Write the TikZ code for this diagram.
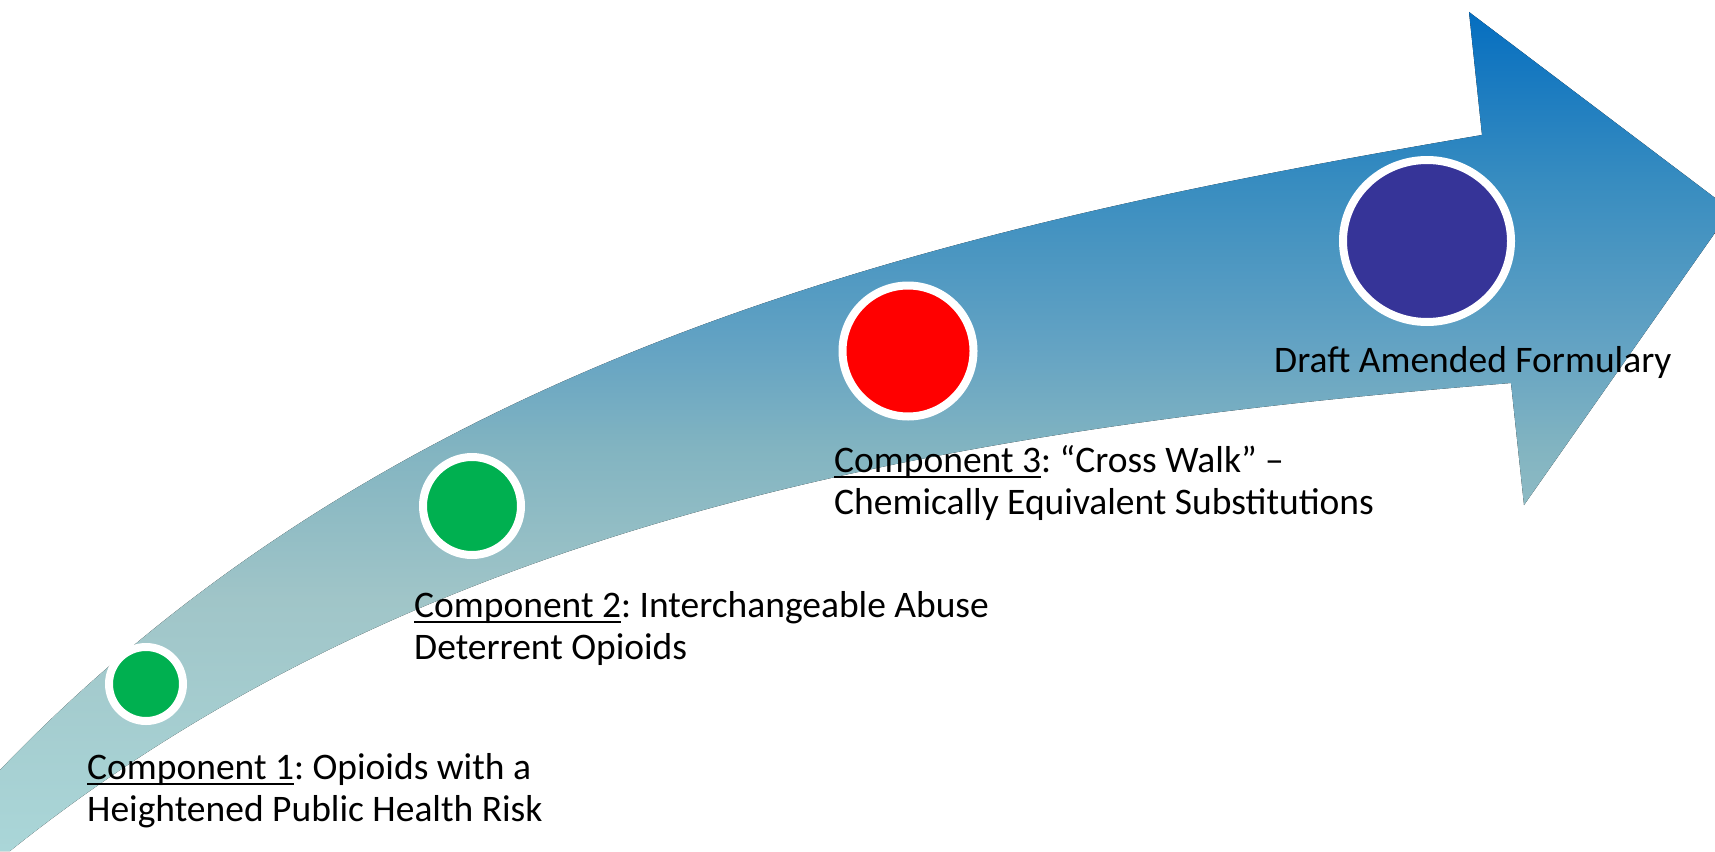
\documentclass[tikz,border=0pt]{standalone}
\usepackage{fontspec}
\setmainfont{Carlito}
\frenchspacing
\usetikzlibrary{shapes.geometric}
\definecolor{st}{RGB}{5,110,192}
\definecolor{s1}{RGB}{55,140,192}
\definecolor{s3}{RGB}{100,163,195}
\definecolor{s4}{RGB}{130,180,193}
\definecolor{s6}{RGB}{160,197,200}
\definecolor{sb}{RGB}{170,214,216}
\definecolor{dotgreen}{RGB}{0,176,80}
\definecolor{dotred}{RGB}{255,0,0}
\definecolor{dotpurple}{RGB}{54,52,152}
\pgfdeclareverticalshading{arrowshade}{100bp}{color(0bp)=(sb); color(25bp)=(sb); color(40bp)=(s6); color(49bp)=(s4); color(55bp)=(s3); color(65bp)=(s1); color(75bp)=(st); color(100bp)=(st)}
\newcommand\compul[1]{\setbox0\hbox{#1}\rlap{\rule[-5.5pt]{\wd0}{2pt}}\box0}
\tikzset{
  lbl/.style={anchor=base west, align=left, inner sep=0pt, font=\fontsize{37.5}{41.5}\selectfont\frenchspacing},
  dot/.style={circle, draw=white, line width=8pt, inner sep=0pt},
}
\begin{document}
\begin{tikzpicture}[x=1pt, y=-1pt]
\path[use as bounding box] (0,0) rectangle (1715,851);
\begin{scope}
\clip (0,0) rectangle (1715,851);
\fill[shading=arrowshade] (0,851) -- (0,770)
  .. controls (400,354) and (932,228.5) .. (1482,135)
  -- (1469,12) -- (1731,210) -- (1524,505) -- (1511,383)
  .. controls (911,431) and (410,531) .. (10,851)
  -- cycle;
\end{scope}
\node[dot, fill=dotgreen, minimum size=74pt] (c1) at (146,684) {};
\node[dot, fill=dotgreen, minimum size=98pt] (c2) at (472,506) {};
\node[dot, fill=dotred, minimum size=131pt] (c3) at (908,351) {};
\node[ellipse, draw=white, line width=8pt, inner sep=0pt, fill=dotpurple, minimum width=168pt, minimum height=162pt] (c4) at (1427,241) {};
\node[lbl] (t1) at (87,821) {\compul{Component 1}: Opioids with a\\Heightened Public Health Risk};
\node[lbl] (t2) at (414,659) {\compul{Component 2}: Interchangeable Abuse\\Deterrent Opioids};
\node[lbl] (t3) at (834,514) {\compul{Component 3}: “Cross Walk” –\\Chemically Equivalent Substitutions};
\node[lbl] (t4) at (1274,372) {Draft Amended Formulary};
\end{tikzpicture}
\end{document}
